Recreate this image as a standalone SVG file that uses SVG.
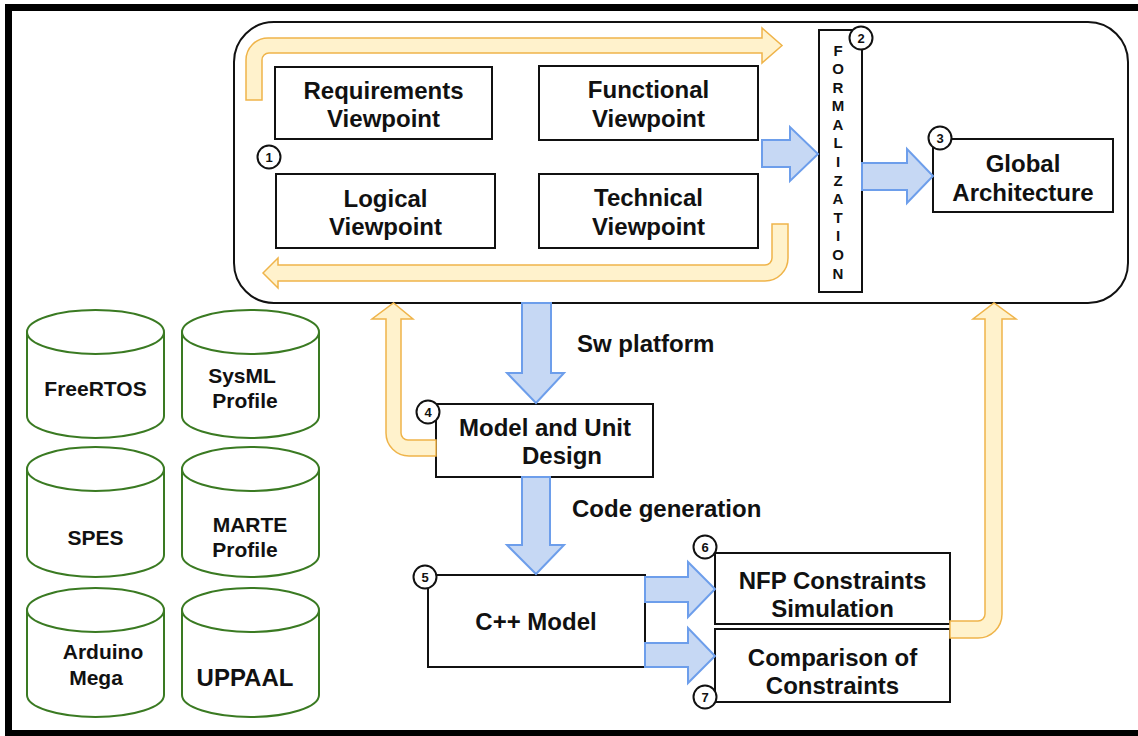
<svg xmlns="http://www.w3.org/2000/svg" width="1138" height="736" viewBox="0 0 1138 736">
<style>
  text { font-family: "Liberation Sans", Arial, sans-serif; font-weight: bold; fill: #111; }
  .t24 { font-size: 24px; text-anchor: middle; }
  .t21 { font-size: 21px; text-anchor: middle; }
  .num { font-size: 13px; text-anchor: middle; }
  .letter { font-size: 15px; text-anchor: middle; }
  .box { fill: #fff; stroke: #111; stroke-width: 2; }
  .badge { fill: #fff; stroke: #111; stroke-width: 2; }
  .cyl { fill: #fff; stroke: #3a7a22; stroke-width: 2; }
  .orange { fill: #fff2cc; stroke: #efb44a; stroke-width: 1.5; stroke-linejoin: miter; }
  .blue { fill: #c6d8f4; stroke: #6d9eeb; stroke-width: 2; stroke-linejoin: miter; }
</style>
<rect x="0" y="0" width="1138" height="736" fill="#fff"/>
<rect x="8.5" y="7.5" width="1140" height="726" fill="none" stroke="#000" stroke-width="7"/>

<g id="platform">
  <rect x="234" y="22" width="894" height="281" rx="40" ry="40" fill="#fff" stroke="#111" stroke-width="2"/>
</g>

<g id="requirements">
  <rect class="box" x="275" y="67" width="217" height="72"/>
  <text class="t24" x="383.5" y="99">Requirements</text>
  <text class="t24" x="383.5" y="127">Viewpoint</text>
</g>
<g id="functional">
  <rect class="box" x="539" y="66" width="219" height="74"/>
  <text class="t24" x="648.5" y="98">Functional</text>
  <text class="t24" x="648.5" y="127">Viewpoint</text>
</g>
<g id="logical">
  <rect class="box" x="276" y="174" width="219" height="74"/>
  <text class="t24" x="385.5" y="207">Logical</text>
  <text class="t24" x="385.5" y="235">Viewpoint</text>
</g>
<g id="technical">
  <rect class="box" x="539" y="174" width="219" height="74"/>
  <text class="t24" x="648.5" y="206">Technical</text>
  <text class="t24" x="648.5" y="235">Viewpoint</text>
</g>
<g id="badge1">
  <circle class="badge" cx="269" cy="157" r="11.5"/>
  <text class="num" x="269" y="161.5">1</text>
</g>

<g id="formalization">
  <rect class="box" x="819" y="30" width="43" height="262"/>
  <text class="letter" x="838" y="55.5">F</text>
  <text class="letter" x="838" y="74.1">O</text>
  <text class="letter" x="838" y="92.7">R</text>
  <text class="letter" x="838" y="111.3">M</text>
  <text class="letter" x="838" y="129.8">A</text>
  <text class="letter" x="838" y="148.4">L</text>
  <text class="letter" x="838" y="167">I</text>
  <text class="letter" x="838" y="185.6">Z</text>
  <text class="letter" x="838" y="204.2">A</text>
  <text class="letter" x="838" y="222.8">T</text>
  <text class="letter" x="838" y="241.3">I</text>
  <text class="letter" x="838" y="259.9">O</text>
  <text class="letter" x="838" y="278.5">N</text>
  <circle class="badge" cx="861" cy="38" r="11.5"/>
  <text class="num" x="861" y="42.5">2</text>
</g>

<g id="global">
  <rect class="box" x="933" y="139" width="180" height="73"/>
  <text class="t24" x="1023" y="172">Global</text>
  <text class="t24" x="1023" y="201">Architecture</text>
  <circle class="badge" cx="940" cy="138" r="11.5"/>
  <text class="num" x="940" y="142.5">3</text>
</g>

<g id="model-unit">
  <rect class="box" x="436" y="404" width="217" height="73"/>
  <text class="t24" x="545" y="436">Model and Unit</text>
  <text class="t24" x="562" y="464">Design</text>
  <circle class="badge" cx="428" cy="412" r="11.5"/>
  <text class="num" x="428" y="416.5">4</text>
</g>

<g id="cpp-model">
  <rect class="box" x="428" y="575" width="217" height="92"/>
  <text class="t24" x="536" y="630">C++ Model</text>
  <circle class="badge" cx="425" cy="577" r="11.5"/>
  <text class="num" x="425" y="581.5">5</text>
</g>

<g id="nfp">
  <rect class="box" x="715" y="553" width="235" height="71"/>
  <text class="t24" x="832.5" y="589">NFP Constraints</text>
  <text class="t24" x="832.5" y="617">Simulation</text>
  <circle class="badge" cx="705" cy="547" r="11.5"/>
  <text class="num" x="705" y="551.5">6</text>
</g>

<g id="comparison">
  <rect class="box" x="715" y="629" width="235" height="73"/>
  <text class="t24" x="832.5" y="666">Comparison of</text>
  <text class="t24" x="832.5" y="694">Constraints</text>
  <circle class="badge" cx="705" cy="697" r="11.5"/>
  <text class="num" x="705" y="701.5">7</text>
</g>

<g id="freertos">
  <path class="cyl" d="M27 332 L27 416 A68.5 22 0 0 0 164 416 L164 332"/>
  <ellipse class="cyl" cx="95.5" cy="332" rx="68.5" ry="22"/>
  <text class="t21" x="95.5" y="395.5">FreeRTOS</text>
</g>
<g id="sysml">
  <path class="cyl" d="M182 332 L182 416 A68.5 22 0 0 0 319 416 L319 332"/>
  <ellipse class="cyl" cx="250.5" cy="332" rx="68.5" ry="22"/>
  <text class="t21" x="242" y="382.5">SysML</text>
  <text class="t21" x="245" y="407.5">Profile</text>
</g>
<g id="spes">
  <path class="cyl" d="M27 469 L27 555 A68.5 22 0 0 0 164 555 L164 469"/>
  <ellipse class="cyl" cx="95.5" cy="469" rx="68.5" ry="22"/>
  <text class="t21" x="95.5" y="544.5">SPES</text>
</g>
<g id="marte">
  <path class="cyl" d="M182 469 L182 555 A68.5 22 0 0 0 319 555 L319 469"/>
  <ellipse class="cyl" cx="250.5" cy="469" rx="68.5" ry="22"/>
  <text class="t21" x="250" y="531.5">MARTE</text>
  <text class="t21" x="245" y="556.5">Profile</text>
</g>
<g id="arduino">
  <path class="cyl" d="M27 610 L27 695 A68.5 22 0 0 0 164 695 L164 610"/>
  <ellipse class="cyl" cx="95.5" cy="610" rx="68.5" ry="22"/>
  <text class="t21" x="103" y="658.5">Arduino</text>
  <text class="t21" x="96" y="684.5">Mega</text>
</g>
<g id="uppaal">
  <path class="cyl" d="M182 610 L182 695 A68.5 22 0 0 0 319 695 L319 610"/>
  <ellipse class="cyl" cx="250.5" cy="610" rx="68.5" ry="22"/>
  <text class="t24" x="245" y="685.5">UPPAAL</text>
</g>

<g id="connectors">
  <path class="orange" d="M246 100 L246 60 A22 22 0 0 1 268 38 L762 38 L762 28 L782 45.5 L762 63 L762 53 L269 53 A7 7 0 0 0 262 60 L262 100 Z"/>
  <path class="orange" d="M263 273 L278 258 L278 265 L765 265 A7 7 0 0 0 772 258 L772 224 L788 224 L788 258 A23 23 0 0 1 765 281 L278 281 L278 288 Z"/>
  <path class="orange" d="M436 440 L408 440 A7 7 0 0 1 401 433 L401 319 L413 319 L393.5 303 L372 319 L386 319 L386 433 A23 23 0 0 0 409 456 L436 456 Z"/>
  <path class="orange" d="M950 621 L978 621 A7 7 0 0 0 985 614 L985 319 L973 319 L994 303 L1016 319 L1002 319 L1002 614 A24 24 0 0 1 978 638 L950 638 Z"/>
  <path class="blue" d="M762 140 L790 140 L790 127 L818 154 L790 181 L790 167 L762 167 Z"/>
  <path class="blue" d="M862 163 L907 163 L907 149 L933 176 L907 203 L907 190 L862 190 Z"/>
  <path class="blue" d="M522 303 L551 303 L551 373 L564 373 L536 403 L507 373 L522 373 Z"/>
  <path class="blue" d="M522 477 L550 477 L550 545 L564 545 L536 574 L507 545 L522 545 Z"/>
  <path class="blue" d="M645 577 L688 577 L688 562 L715 589 L688 617 L688 602 L645 602 Z"/>
  <path class="blue" d="M645 643 L688 643 L688 628 L715 656 L688 683 L688 667 L645 667 Z"/>
  <text x="577" y="352" style="font-size:24px">Sw platform</text>
  <text x="572" y="517" style="font-size:24px">Code generation</text>
</g>
</svg>
